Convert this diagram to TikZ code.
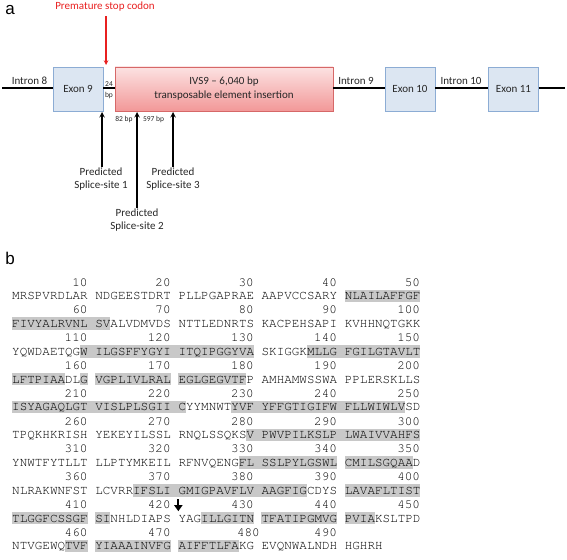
\documentclass[tikz,border=0pt]{standalone}
\usepackage{fontspec}
\setmainfont{Carlito}
\newfontfamily\seqfont{TeX Gyre Cursor}
\newfontfamily\panelfont{Liberation Sans}
\usepackage{tikz}
\usetikzlibrary{arrows,arrows.meta,positioning,shapes.geometric}

\definecolor{exonfill}{RGB}{220,230,242}
\definecolor{exonline}{RGB}{140,172,212}
\definecolor{insline}{RGB}{214,104,104}
\definecolor{instop}{RGB}{252,226,226}
\definecolor{insbot}{RGB}{242,152,152}
\definecolor{stopred}{RGB}{232,32,32}
\definecolor{hlgray}{RGB}{200,200,200}
\definecolor{labtext}{RGB}{38,38,38}

\newcommand{\cw}{7.56}

\begin{document}
\begin{tikzpicture}[
x=1pt, y=-1pt,
font=\fontsize{11}{12.5}\selectfont,
exon/.style={draw=exonline, fill=exonfill, text=labtext, minimum width=50pt, minimum height=44pt, inner sep=0pt},
insert/.style={draw=insline, top color=instop, bottom color=insbot, text=labtext, minimum width=218pt, minimum height=44pt, inner sep=0pt, align=center, font=\fontsize{11}{14}\selectfont},
gene/.style={line width=2pt},
lab/.style={text=labtext, inner sep=1pt, align=center},
small/.style={text=labtext, inner sep=0pt, align=center, font=\fontsize{7.5}{11}\selectfont},
site/.style={->, >=stealth, line width=1.4pt},
stoparrow/.style={->, >=stealth, line width=1.1pt, draw=stopred},
cutarrow/.style={-{Triangle[length=6pt,width=8pt]}, line width=2pt},
panel/.style={inner sep=0pt, font=\panelfont\fontsize{17}{17}\selectfont},
hl/.style={fill=hlgray, draw=none},
seq/.style={inner sep=0pt, font=\seqfont\fontsize{12.6}{13}\selectfont, text=black}
]
    \useasboundingbox (0,0) rectangle (567,559);

    % panel a: gene structure
    \node[panel] (pa) at (10,10) {a};
    \node[exon] (ex9) at (78,89) {Exon 9};
    \node[insert] (ins) at (224,89) {IVS9 -- 6,040 bp\\transposable element insertion};
    \node[exon] (ex10) at (410,89) {Exon 10};
    \node[exon] (ex11) at (513.5,89) {Exon 11};
    \coordinate (gstart) at (2,88);
    \coordinate (gend) at (565,88);
    \draw[gene] (gstart) -- (gstart -| ex9.west)
        (ex9.east |- gstart) -- (ins.west |- gstart)
        (ins.east |- gstart) -- (ex10.west |- gstart)
        (ex10.east |- gstart) -- (ex11.west |- gstart)
        (ex11.east |- gstart) -- (gend);

    \node[lab] (in8) at (29.5,81) {Intron 8};
    \node[lab] (in9) at (356,81) {Intron 9};
    \node[lab] (in10) at (461,81) {Intron 10};
    \node[small] (gap) at (109,90.5) {24\\bp};

    % stop codon
    \node[lab, text=stopred] (stop) at (105,6.5) {Premature stop codon};
    \coordinate (stoptip) at (106,65);
    \draw[stoparrow] (stop.south -| stoptip) ++(0,4) -- (stoptip);

    % splice sites
    \node[lab] (site1) at (101,179) {Predicted\\Splice-site 1};
    \node[lab] (site2) at (137,220) {Predicted\\Splice-site 2};
    \node[lab] (site3) at (173,179) {Predicted\\Splice-site 3};
    \coordinate (ss1) at (102,112);
    \coordinate (ss2) at (137,112);
    \coordinate (ss3) at (173,112);
    \draw[site] (site1.north -| ss1) -- (ss1);
    \draw[site] (site2.north -| ss2) -- (ss2);
    \draw[site] (site3.north -| ss3) -- (ss3);
    \node[small] (bp82) at (124,120) {82 bp};
    \node[small] (bp597) at (153.5,120) {597 bp};

    % panel b: protein sequence
    \node[panel] (pb) at (10,258) {b};
    \foreach \r/\a/\b in {0/44/54, 1/0/13, 2/9/32, 2/39/54, 3/0/7, 3/9/10, 3/11/21, 3/22/31,
        4/0/23, 4/29/52, 5/31/54, 6/30/43, 6/44/53, 7/16/39, 7/44/54,
        8/0/10, 8/11/13, 8/25/32, 8/33/43, 8/44/48, 9/7/10, 9/11/21, 9/22/30}
        \fill[hl] ({12+\a*\cw},{296+\r*27.8-6.5}) rectangle ({12+\b*\cw},{296+\r*27.8+6});

    \foreach \r/\sa/\sb/\sc/\sd/\se in {
        0/MRSPVRDLAR/NDGEESTDRT/PLLPGAPRAE/AAPVCCSARY/NLAILAFFGF,
        1/FIVYALRVNL/SVALVDMVDS/NTTLEDNRTS/KACPEHSAPI/KVHHNQTGKK,
        2/YQWDAETQGW/ILGSFFYGYI/ITQIPGGYVA/SKIGGKMLLG/FGILGTAVLT,
        3/LFTPIAADLG/VGPLIVLRAL/EGLGEGVTFP/AMHAMWSSWA/PPLERSKLLS,
        4/ISYAGAQLGT/VISLPLSGII/CYYMNWTYVF/YFFGTIGIFW/FLLWIWLVSD,
        5/TPQKHKRISH/YEKEYILSSL/RNQLSSQKSV/PWVPILKSLP/LWAIVVAHFS,
        6/YNWTFYTLLT/LLPTYMKEIL/RFNVQENGFL/SSLPYLGSWL/CMILSGQAAD,
        7/NLRAKWNFST/LCVRRIFSLI/GMIGPAVFLV/AAGFIGCDYS/LAVAFLTIST,
        8/TLGGFCSSGF/SINHLDIAPS/YAGILLGITN/TFATIPGMVG/PVIAKSLTPD,
        9/NTVGEWQTVF/YIAAAINVFG/AIFFTLFAKG/EVQNWALNDH/HGHRH}
    {
        \foreach \k/\t in {0/\sa,1/\sb,2/\sc,3/\sd,4/\se}
            \node[seq, anchor=base west] (s\r-\k) at ({12+\k*11*\cw},{296+\r*27.8+3.6}) {\t};
    }

    % residue numbers
    \foreach \r in {0,...,8}
        \foreach \k in {0,...,4} {
            \pgfmathtruncatemacro{\num}{\r*50+(\k+1)*10}
            \node[seq, anchor=base east] (n\num) at ({12+(\k*11+10)*\cw},{296+\r*27.8-13.5+3.6}) {\num};
        }
    \node[seq, anchor=base east] (n460) at ({12+10*\cw},{296+9*27.8-9.9}) {460};
    \node[seq, anchor=base east] (n470) at ({12+21*\cw},{296+9*27.8-9.9}) {470};
    \node[seq, anchor=base east, xshift=6pt] (n480) at ({12+32*\cw},{296+9*27.8-9.9}) {480};
    \node[seq, anchor=base east] (n490) at ({12+43*\cw},{296+9*27.8-9.9}) {490};

    % cut site
    \coordinate (cuttop) at ({12+22*\cw},{296+9*27.8-47});
    \coordinate (cut) at ({12+22*\cw},{296+9*27.8-35});
    \draw[cutarrow] (cuttop) -- (cut);
\end{tikzpicture}
\end{document}
